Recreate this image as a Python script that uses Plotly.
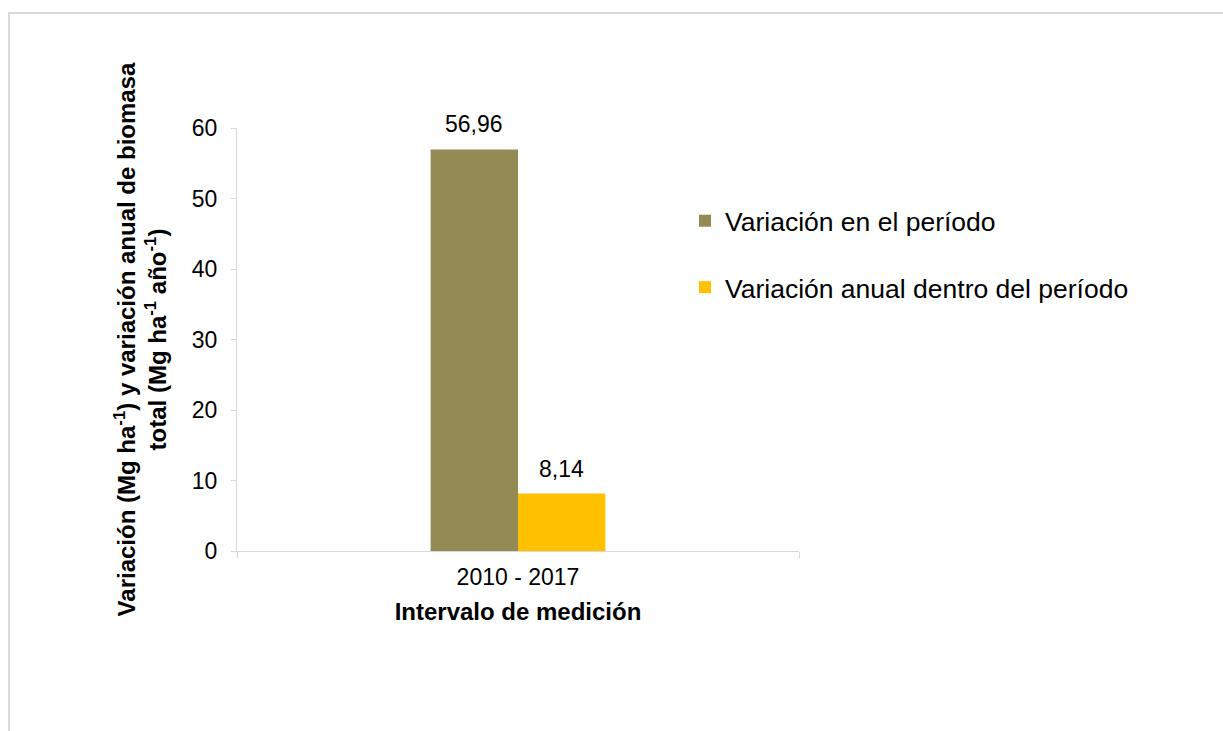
import plotly.graph_objects as go

# Data
categories = ["2010 - 2017"]
series_names = ["Variación en el período", "Variación anual dentro del período"]
variacion_periodo = [56.96]
variacion_anual = [8.14]
series_colors = ["#948A54", "#FFC000"]
y_ticks = [0, 10, 20, 30, 40, 50, 60]

W, H = 1223, 731
L, R, T, B = 237, 424, 128, 180
plot_w = W - L - R
plot_h = H - T - B

FONT = "Liberation Sans, Arial, sans-serif"
GRID = "#d9d9d9"
BARGAP = 0.689

series_values = [variacion_periodo, variacion_anual]

fig = go.Figure()
for name, vals, col, grp in zip(series_names, series_values, series_colors, ["a", "b"]):
    fig.add_trace(go.Bar(
        x=categories, y=vals, name=name, legendgroup=grp,
        marker=dict(color=col, line=dict(width=0)),
    ))

# value labels above each bar (comma decimal separator)
group_w = plot_w / len(categories) * (1 - BARGAP)
bar_w = group_w / len(series_values)
for i, vals in enumerate(series_values):
    dx = (i - (len(series_values) - 1) / 2) * bar_w
    for cat, v in zip(categories, vals):
        fig.add_annotation(
            x=cat, y=v, xref="x", yref="y", xshift=dx, yshift=10,
            yanchor="bottom", showarrow=False,
            text=f"{v:.2f}".replace(".", ","),
            font=dict(family=FONT, size=23, color="#000000"),
        )

# outer frame of the chart area
fig.add_shape(type="rect", xref="paper", yref="paper",
              x0=(9 - L) / plot_w, x1=(W + 20 - L) / plot_w,
              y0=-(B + 20) / plot_h, y1=1 + (T - 13) / plot_h,
              line=dict(color=GRID, width=2), fillcolor="rgba(0,0,0,0)", layer="below")

fig.update_layout(
    width=W, height=H,
    margin=dict(l=L, r=R, t=T, b=B, autoexpand=False),
    paper_bgcolor="white", plot_bgcolor="white",
    barmode="group", bargap=BARGAP, bargroupgap=0,
    font=dict(family=FONT, color="#000000"),
    showlegend=True,
    legend=dict(
        x=(685 - L) / plot_w, xanchor="left",
        y=(551 - 197) / plot_h, yanchor="top",
        font=dict(family=FONT, size=26.5, color="#000000"),
        traceorder="grouped", tracegroupgap=29,
        bgcolor="rgba(0,0,0,0)", borderwidth=0,
    ),
    xaxis=dict(
        type="category",
        showline=True, linecolor=GRID, linewidth=1,
        ticks="outside", tickson="boundaries", ticklen=6, tickcolor=GRID,
        ticklabelstandoff=5,
        tickfont=dict(family=FONT, size=23, color="#000000"),
        showgrid=False, zeroline=False,
        title=dict(text="<b>Intervalo de medición</b>",
                   font=dict(family=FONT, size=24, color="#000000"), standoff=14),
    ),
    yaxis=dict(
        range=[0, 60], tickvals=y_ticks,
        showline=True, linecolor=GRID, linewidth=1,
        ticks="outside", ticklen=5, tickcolor=GRID, ticklabelstandoff=9,
        tickfont=dict(family=FONT, size=23, color="#000000"),
        showgrid=False, zeroline=False,
        title=dict(
            text="<b>Variación (Mg ha<sup>-1</sup>) y variación anual de biomasa<br>"
                 "total (Mg ha<sup>-1</sup> año<sup>-1</sup>)</b>",
            font=dict(family=FONT, size=24, color="#000000"), standoff=18),
    ),
)

fig.write_html("out.html")
